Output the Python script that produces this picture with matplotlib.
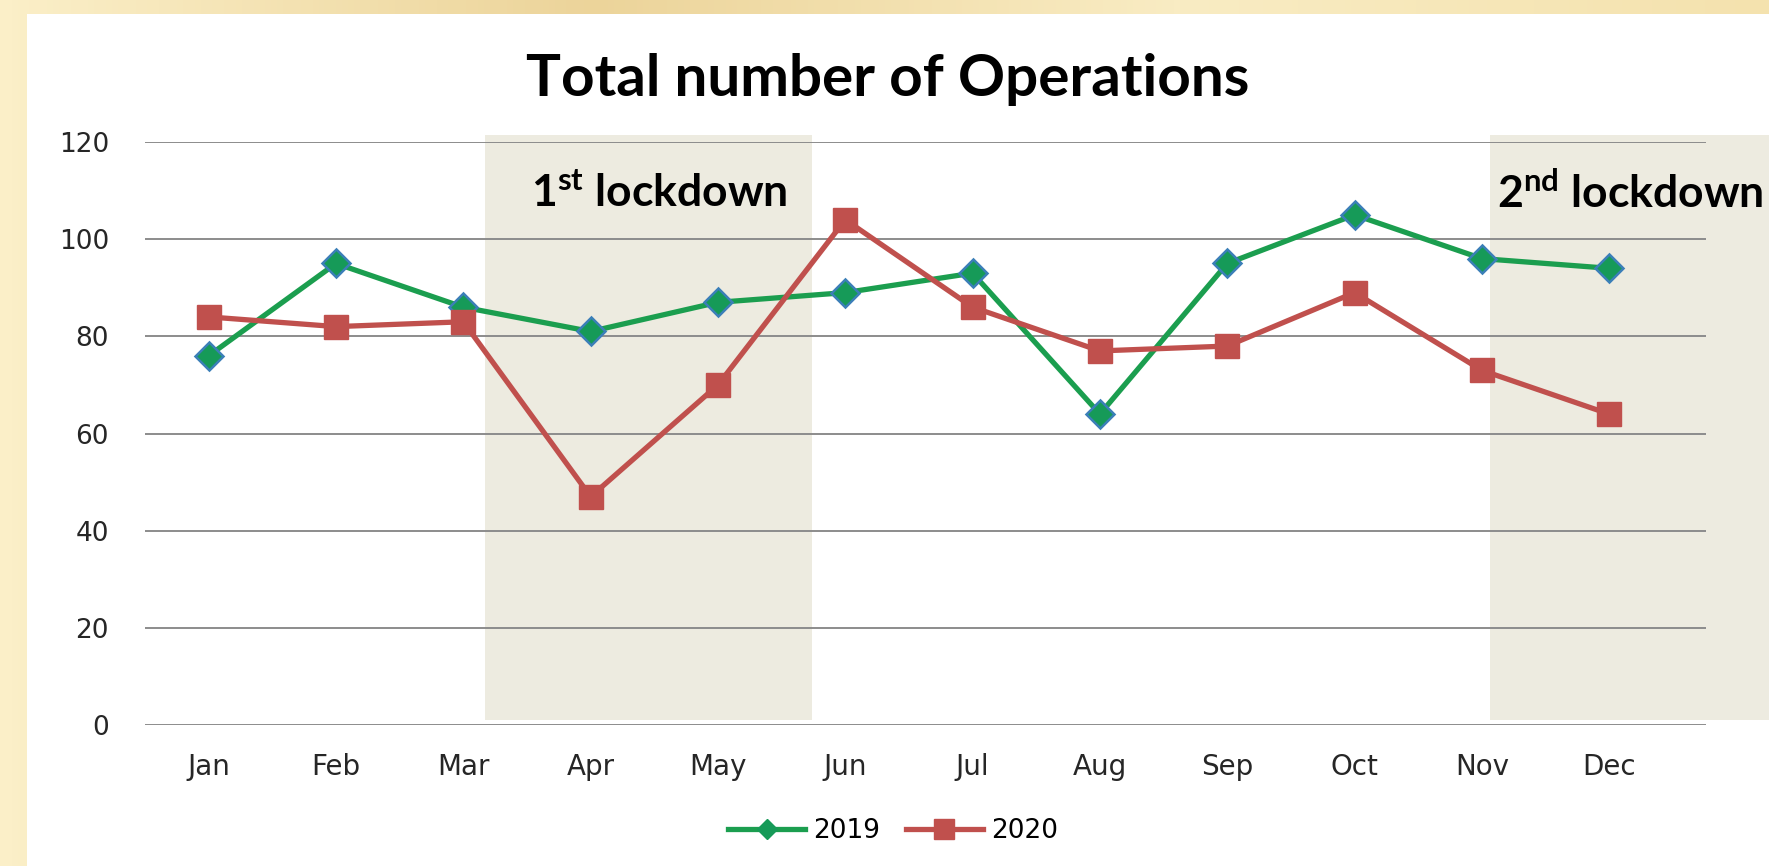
import matplotlib
matplotlib.use('Agg')
import matplotlib.pyplot as plt
from matplotlib.lines import Line2D
from matplotlib.patches import Rectangle
import numpy as np

# data
months = ['Jan', 'Feb', 'Mar', 'Apr', 'May', 'Jun', 'Jul', 'Aug', 'Sep', 'Oct', 'Nov', 'Dec']
ops_2019 = [76, 95, 86, 81, 87, 89, 93, 64, 95, 105, 96, 94]
ops_2020 = [84, 82, 83, 47, 70, 104, 86, 77, 78, 89, 73, 64]
lockdown_labels = ['1$^{\\mathregular{st}}$ lockdown', '2$^{\\mathregular{nd}}$ lockdown']
lockdown_spans = [(2.17, 4.74), (10.06, 13.0)]
yticks = [0, 20, 40, 60, 80, 100, 120]

green = '#1B9E4F'
red = '#C0504D'
shade = '#EDEBE0'

fig = plt.figure(figsize=(17.69, 8.66), dpi=100)
fig.patch.set_facecolor('#F6E4B0')

# cream background gradient
bg = fig.add_axes([0, 0, 1, 1], zorder=-10)
grad = np.linspace(0, 1, 300)
img = np.outer(np.ones(50), grad)
bg.imshow(img, aspect='auto', cmap=matplotlib.colors.LinearSegmentedColormap.from_list(
    'cream', ['#FBEFC8', '#ECD49A', '#F9ECC3', '#F4E2AE']), extent=[0, 1, 0, 1])
bg.add_patch(Rectangle((27 / 1769, 0), 1, 1 - 14 / 866, transform=bg.transAxes,
                       facecolor='white', edgecolor='none'))
bg.set_xlim(0, 1)
bg.set_ylim(0, 1)
bg.axis('off')

ax = fig.add_axes([145 / 1769, 1 - 725 / 866, (1706 - 145) / 1769, (725 - 142) / 866])
ax.set_facecolor('none')
x = np.arange(len(months))

# lockdown shading
label_x = [2.53, 10.12]
for (x0, x1), lab, lx in zip(lockdown_spans, lockdown_labels, label_x):
    ax.add_patch(Rectangle((x0, 1.1), x1 - x0, 120.4, facecolor=shade, edgecolor='none',
                           zorder=0, clip_on=False))
    ax.text(lx, 109.5, lab, fontsize=32, fontweight='bold', family='Lato',
            ha='left', va='center', zorder=3, clip_on=False)

for yv in yticks:
    ax.axhline(yv, color='#8C8C8C', lw=1.4, zorder=1)

ax.plot(x, ops_2019, color=green, lw=3.8, marker='D', markersize=14,
        markerfacecolor='#169A58', markeredgecolor='#3B7FB8', markeredgewidth=1.8, zorder=4)
ax.plot(x, ops_2020, color=red, lw=3.8, marker='s', markersize=17,
        markerfacecolor=red, markeredgecolor=red, zorder=5)

ax.set_xlim(-0.5, 11.76)
ax.set_ylim(0, 120)
ax.set_xticks(x)
ax.set_xticklabels(months)
ax.set_yticks(yticks)
ax.tick_params(axis='x', length=0, labelsize=20, colors='#262626', pad=20)
ax.tick_params(axis='y', length=0, labelsize=19, colors='#262626', pad=26)
for s in ax.spines.values():
    s.set_visible(False)

fig.text(888 / 1769, 1 - 80 / 866, 'Total number of Operations', fontsize=42,
         fontweight='bold', family='Lato', ha='center', va='center')

handles = [
    Line2D([], [], color=green, lw=3.8, marker='D', markersize=10,
           markerfacecolor='#169A58', markeredgecolor='#169A58'),
    Line2D([], [], color=red, lw=3.8, marker='s', markersize=14,
           markerfacecolor=red, markeredgecolor=red),
]
fig.legend(handles, ['2019', '2020'], loc='center', bbox_to_anchor=(893 / 1769, 1 - 831 / 866),
           ncol=2, frameon=False, fontsize=19, handlelength=2.9, handletextpad=0.3,
           columnspacing=1.0)

fig.savefig('out.png', dpi=100)
